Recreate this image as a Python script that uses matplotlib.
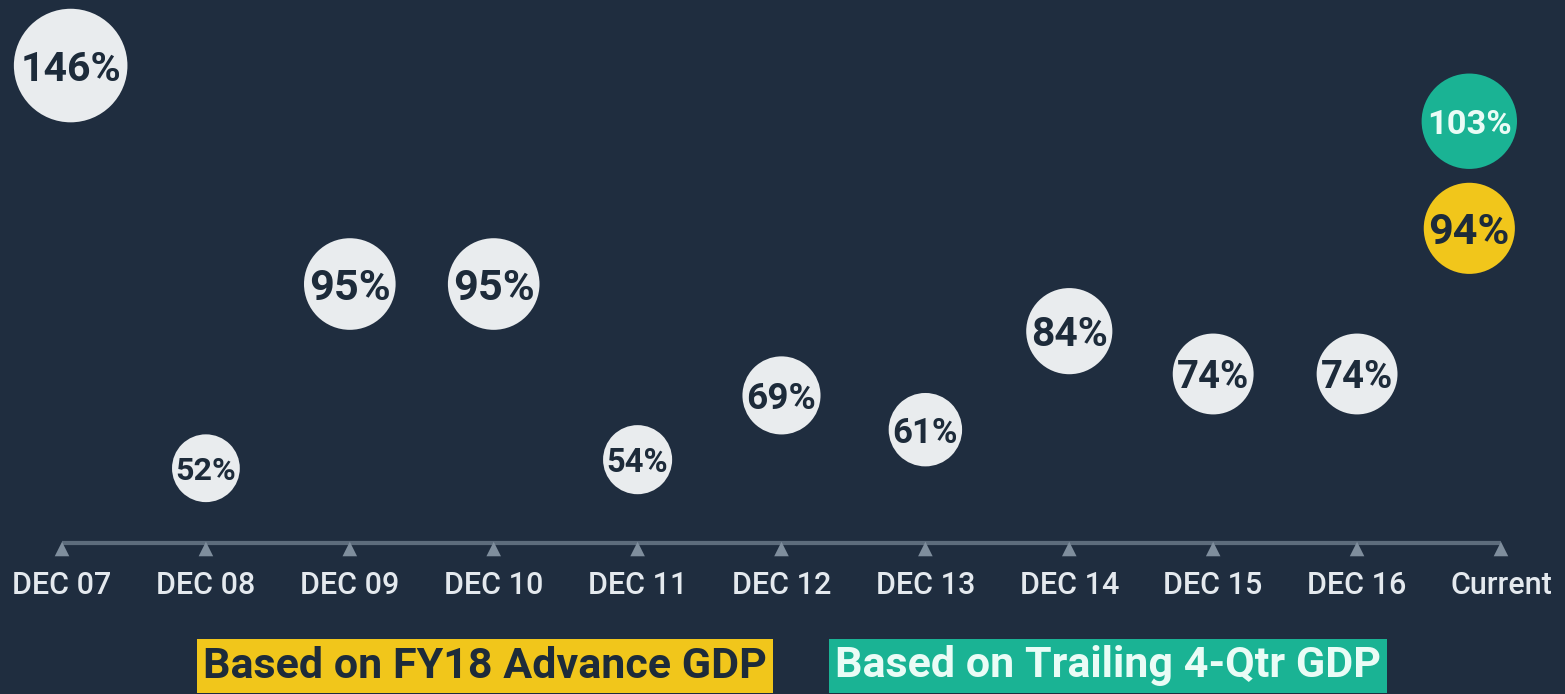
import numpy as np
import matplotlib
matplotlib.use("Agg")
import matplotlib.pyplot as plt

# chart data
periods = ["DEC 07", "DEC 08", "DEC 09", "DEC 10", "DEC 11", "DEC 12",
           "DEC 13", "DEC 14", "DEC 15", "DEC 16", "Current"]
ratios = [146, 52, 95, 95, 54, 69, 61, 84, 74, 74]
current_advance = 94      # based on FY18 advance GDP (yellow)
current_trailing = 103    # based on trailing 4-qtr GDP (teal)
legend_labels = ["Based on FY18 Advance GDP", "Based on Trailing 4-Qtr GDP"]

BG = "#1f2d3f"
BUBBLE = "#e9ecee"
INK = "#1d2b3a"
YELLOW = "#f1c61b"
TEAL = "#1ab394"
AXIS = "#5d6c7c"

plt.rcParams['font.family'] = ['Roboto', 'DejaVu Sans']

fig = plt.figure(figsize=(15.65, 6.94), dpi=100, facecolor=BG)
ax = fig.add_axes([0, 0, 1, 1])
ax.set_facecolor(BG)
ax.set_xlim(-0.431, 10.445)
ax.set_ylim(-0.7, 161.3)
ax.axis("off")

PX = 0.72  # points per pixel at 100 dpi


def diam_px(v):
    return 9.4 * np.sqrt(v)


def bubble(x, v, ypos, face, txt_color):
    d = diam_px(v)
    ax.scatter([x], [ypos], s=(d * PX) ** 2, color=face, edgecolors="none", zorder=3)
    label = f"{v}%"
    width_em = 0.59 * (len(label) - 1) + 0.72
    fs = 0.9 * d * PX / width_em
    ax.text(x, ypos, label, ha="center", va="center_baseline", fontsize=fs,
            fontweight="bold", color=txt_color, zorder=4)


x = np.arange(len(periods))
for i, v in enumerate(ratios):
    # first bubble nudged right so it stays inside the frame
    bx = x[i] + (0.06 if i == 0 else 0)
    bubble(bx, v, v, BUBBLE, INK)

# the two "current" bubbles are stacked above their value so they don't collide
cx = x[-1] - 0.22
bubble(cx, current_trailing, current_trailing + 30, TEAL, "#eafcf6")
bubble(cx, current_advance, current_advance + 14, YELLOW, INK)

# timeline axis
line_y = 1 - 543 / 694
tr = ax.get_xaxis_transform()
ax.plot([x[0], x[-1]], [line_y, line_y], color=AXIS, lw=3, transform=tr,
        solid_capstyle="butt", zorder=1)
ax.scatter(x, [1 - 549 / 694] * len(x), marker="^", s=110, color="#7f8e9d",
           transform=tr, zorder=2, edgecolors="none")
for xi, lab in zip(x, periods):
    ax.text(xi, 1 - 586 / 694, lab, transform=tr, ha="center", va="center",
            fontsize=22, fontweight="medium", color="#e4e9ee")

# legend boxes
ax.text(485 / 1565, 1 - 666 / 694, legend_labels[0], transform=ax.transAxes,
        ha="center", va="center", fontsize=31, fontweight="bold", color=INK,
        bbox=dict(boxstyle="square,pad=0.14", fc=YELLOW, ec="none"))
ax.text(1108 / 1565, 1 - 666 / 694, legend_labels[1], transform=ax.transAxes,
        ha="center", va="center", fontsize=31, fontweight="bold", color="#eafcf6",
        bbox=dict(boxstyle="square,pad=0.14", fc=TEAL, ec="none"))

fig.savefig("out.png", dpi=100, facecolor=BG)
